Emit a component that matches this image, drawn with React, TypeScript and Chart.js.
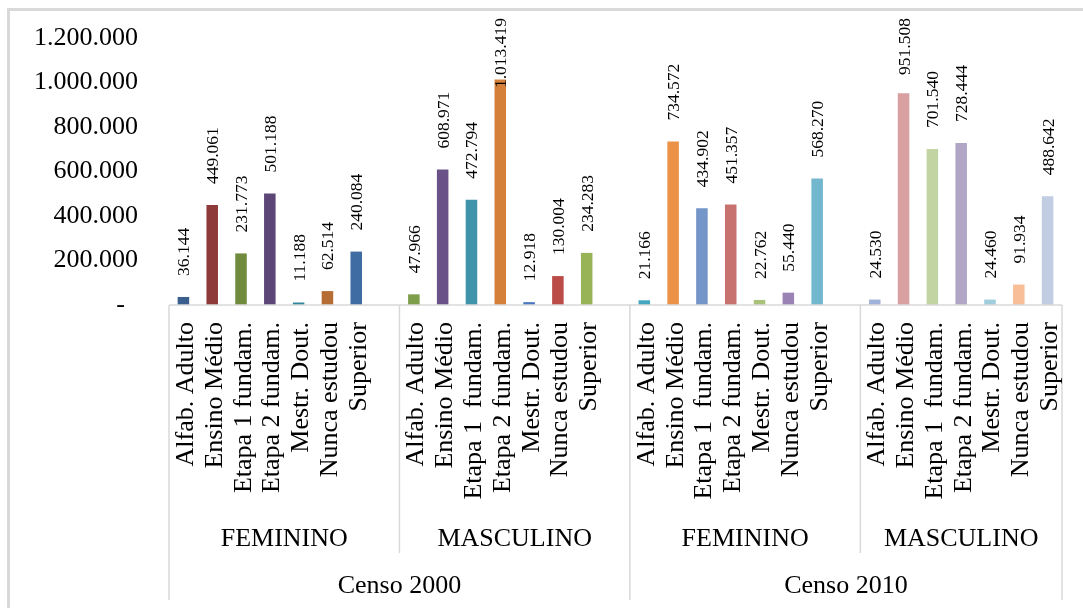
import { useEffect, useRef } from 'react';
import { Chart, registerables } from 'chart.js';

Chart.register(...registerables);

// Education level labels per group (the later groups carry a double space in "Etapa 1  fundam.")
const levelsF2000 = ['Alfab. Adulto', 'Ensino Médio', 'Etapa 1 fundam.', 'Etapa 2 fundam.', 'Mestr. Dout.', 'Nunca estudou', 'Superior'];
const levelsM2000 = ['Alfab. Adulto', 'Ensino Médio', 'Etapa 1  fundam.', 'Etapa 2 fundam.', 'Mestr. Dout.', 'Nunca estudou', 'Superior'];
const levelsF2010 = ['Alfab. Adulto', 'Ensino Médio', 'Etapa 1  fundam.', 'Etapa 2 fundam.', 'Mestr. Dout.', 'Nunca estudou', 'Superior'];
const levelsM2010 = ['Alfab. Adulto', 'Ensino Médio', 'Etapa 1  fundam.', 'Etapa 2 fundam.', 'Mestr. Dout.', 'Nunca estudou', 'Superior'];

const sexLabels = ['FEMININO', 'MASCULINO', 'FEMININO', 'MASCULINO'];
const censusLabels = ['Censo 2000', 'Censo 2010'];

// Population by education level
const femininoCenso2000 = [36144, 449061, 231773, 501188, 11188, 62514, 240084];
const masculinoCenso2000 = [47966, 608971, 472794, 1013419, 12918, 130004, 234283];
const femininoCenso2010 = [21166, 734572, 434902, 451357, 22762, 55440, 568270];
const masculinoCenso2010 = [24530, 951508, 701540, 728444, 24460, 91934, 488642];

// Y axis
const yMax = 1200000;
const yStep = 200000;

// Bar colours per group
const coloursF2000 = ['#3a5e8e', '#8e3a3a', '#708b3e', '#5c4677', '#31859c', '#b56d33', '#3f6ca3'];
const coloursM2000 = ['#7e9e4b', '#6a5289', '#3f93ab', '#d5803a', '#4a78be', '#bb4b47', '#97b356'];
const coloursF2010 = ['#43a5bf', '#ec9246', '#7395c7', '#c87270', '#a8c27a', '#9a82b5', '#72b7ce'];
const coloursM2010 = ['#a0b2d8', '#d8a0a0', '#c3d4a3', '#b2a6c7', '#9fcddc', '#f8be98', '#c1cde2'];

const groupLevels = [levelsF2000, levelsM2000, levelsF2010, levelsM2010];
const groupValues = [femininoCenso2000, masculinoCenso2000, femininoCenso2010, masculinoCenso2010];
const groupColours = [coloursF2000, coloursM2000, coloursF2010, coloursM2010];
const groupCensus = [0, 0, 1, 1];

const FONT = '"Liberation Serif", "Times New Roman", serif';
const LINE = '#d9d9d9';

const fmt = (v: number) => String(v).replace(/\B(?=(\d{3})+(?!\d))/g, '.');

// Flatten the groups into one category axis; an empty slot follows every group but the last
const labels: string[] = [];
const values: (number | null)[] = [];
const barColours: string[] = [];
const groupStart: number[] = [];
const groupEnd: number[] = [];
groupLevels.forEach((lv, gi) => {
  groupStart.push(labels.length);
  lv.forEach((name, i) => {
    labels.push(name);
    values.push(groupValues[gi][i]);
    barColours.push(groupColours[gi][i]);
  });
  if (gi < groupLevels.length - 1) {
    labels.push('');
    values.push(null);
    barColours.push('rgba(0,0,0,0)');
  }
  groupEnd.push(labels.length - 1);
});

const multiLevelAxis = {
  id: 'multiLevelAxis',
  beforeDraw(chart: any) {
    const { ctx, width, height } = chart;
    ctx.save();
    ctx.fillStyle = '#ffffff';
    ctx.fillRect(0, 0, width, height);
    ctx.fillStyle = LINE;
    ctx.fillRect(7, 8, 3, height - 8);
    ctx.fillRect(7, 8, width - 7, 3);
    ctx.restore();
  },
  afterDatasetsDraw(chart: any) {
    const { ctx, chartArea } = chart;
    const x = chart.scales.x;
    const y = chart.scales.y;
    const slot = x.getPixelForValue(1) - x.getPixelForValue(0);
    const axisY = chartArea.bottom;
    const bottom = 600;

    ctx.save();

    // Value labels above each bar
    ctx.fillStyle = '#000';
    ctx.font = `17.5px ${FONT}`;
    ctx.textBaseline = 'alphabetic';
    values.forEach((v, i) => {
      if (v == null) return;
      const text = fmt(v);
      const w = ctx.measureText(text).width;
      let start = y.getPixelForValue(v) - 21;
      if (start - w < 18) start = 18 + w;
      ctx.save();
      ctx.translate(x.getPixelForValue(i) + 6, start);
      ctx.rotate(-Math.PI / 2);
      ctx.textAlign = 'left';
      ctx.fillText(text, 0, 0);
      ctx.restore();
    });

    // Axis frame and group separators
    ctx.strokeStyle = LINE;
    ctx.lineWidth = 1.5;
    ctx.beginPath();
    ctx.moveTo(chartArea.left, axisY);
    ctx.lineTo(chartArea.right, axisY);
    ctx.moveTo(chartArea.left, axisY);
    ctx.lineTo(chartArea.left, bottom);
    ctx.moveTo(chartArea.right, axisY);
    ctx.lineTo(chartArea.right, bottom);
    for (let gi = 1; gi < groupStart.length; gi++) {
      const sx = x.getPixelForValue(groupStart[gi]) - slot / 2;
      const full = groupCensus[gi] !== groupCensus[gi - 1];
      ctx.moveTo(sx, axisY);
      ctx.lineTo(sx, full ? bottom : 553);
    }
    ctx.stroke();

    // Level labels, rotated
    ctx.fillStyle = '#000';
    ctx.font = `26px ${FONT}`;
    labels.forEach((name, i) => {
      if (!name) return;
      ctx.save();
      ctx.translate(x.getPixelForValue(i) + 9.5, 322);
      ctx.rotate(-Math.PI / 2);
      ctx.textAlign = 'right';
      ctx.fillText(name, 0, 0);
      ctx.restore();
    });

    // Sex labels
    ctx.textAlign = 'center';
    sexLabels.forEach((name, gi) => {
      const l = x.getPixelForValue(groupStart[gi]) - slot / 2;
      const r = x.getPixelForValue(groupEnd[gi]) + slot / 2;
      ctx.fillText(name, (l + r) / 2, 546);
    });

    // Census labels
    censusLabels.forEach((name, ci) => {
      const idx = groupCensus.map((c, gi) => (c === ci ? gi : -1)).filter((g) => g >= 0);
      const l = x.getPixelForValue(groupStart[idx[0]]) - slot / 2;
      const r = x.getPixelForValue(groupEnd[idx[idx.length - 1]]) + slot / 2;
      ctx.fillText(name, (l + r) / 2, 593);
    });

    ctx.restore();
  },
};

export default function App() {
  const canvasRef = useRef<HTMLCanvasElement | null>(null);

  useEffect(() => {
    if (!canvasRef.current) return;
    const chart = new Chart(canvasRef.current, {
      type: 'bar',
      data: {
        labels,
        datasets: [
          {
            data: values,
            backgroundColor: barColours,
            borderWidth: 0,
            barPercentage: 0.4,
            categoryPercentage: 1,
          },
        ],
      },
      options: {
        responsive: false,
        animation: false,
        devicePixelRatio: 1,
        layout: { padding: { left: 0, right: 21, top: 38, bottom: 303 } },
        plugins: { legend: { display: false }, tooltip: { enabled: false } },
        scales: {
          x: { display: false },
          y: {
            min: 0,
            max: yMax,
            grid: { display: false, drawTicks: false },
            border: { display: false },
            ticks: {
              stepSize: yStep,
              padding: 31,
              color: '#000',
              font: { family: FONT, size: 26 },
              callback: (v: any) => (Number(v) === 0 ? '-  ' : fmt(Number(v))),
            },
            afterFit: (scale: any) => {
              scale.width = 169;
              // the tick padding is horizontal only; keep it out of the vertical layout
              scale.paddingTop = 0;
              scale.paddingBottom = 0;
            },
          },
        },
      },
      plugins: [multiLevelAxis],
    });
    return () => chart.destroy();
  }, []);

  return (
    <div style={{ position: 'fixed', left: 0, top: 0, width: 1083, height: 608, background: '#fff' }}>
      <canvas ref={canvasRef} width={1083} height={608} style={{ display: 'block' }} />
    </div>
  );
}
